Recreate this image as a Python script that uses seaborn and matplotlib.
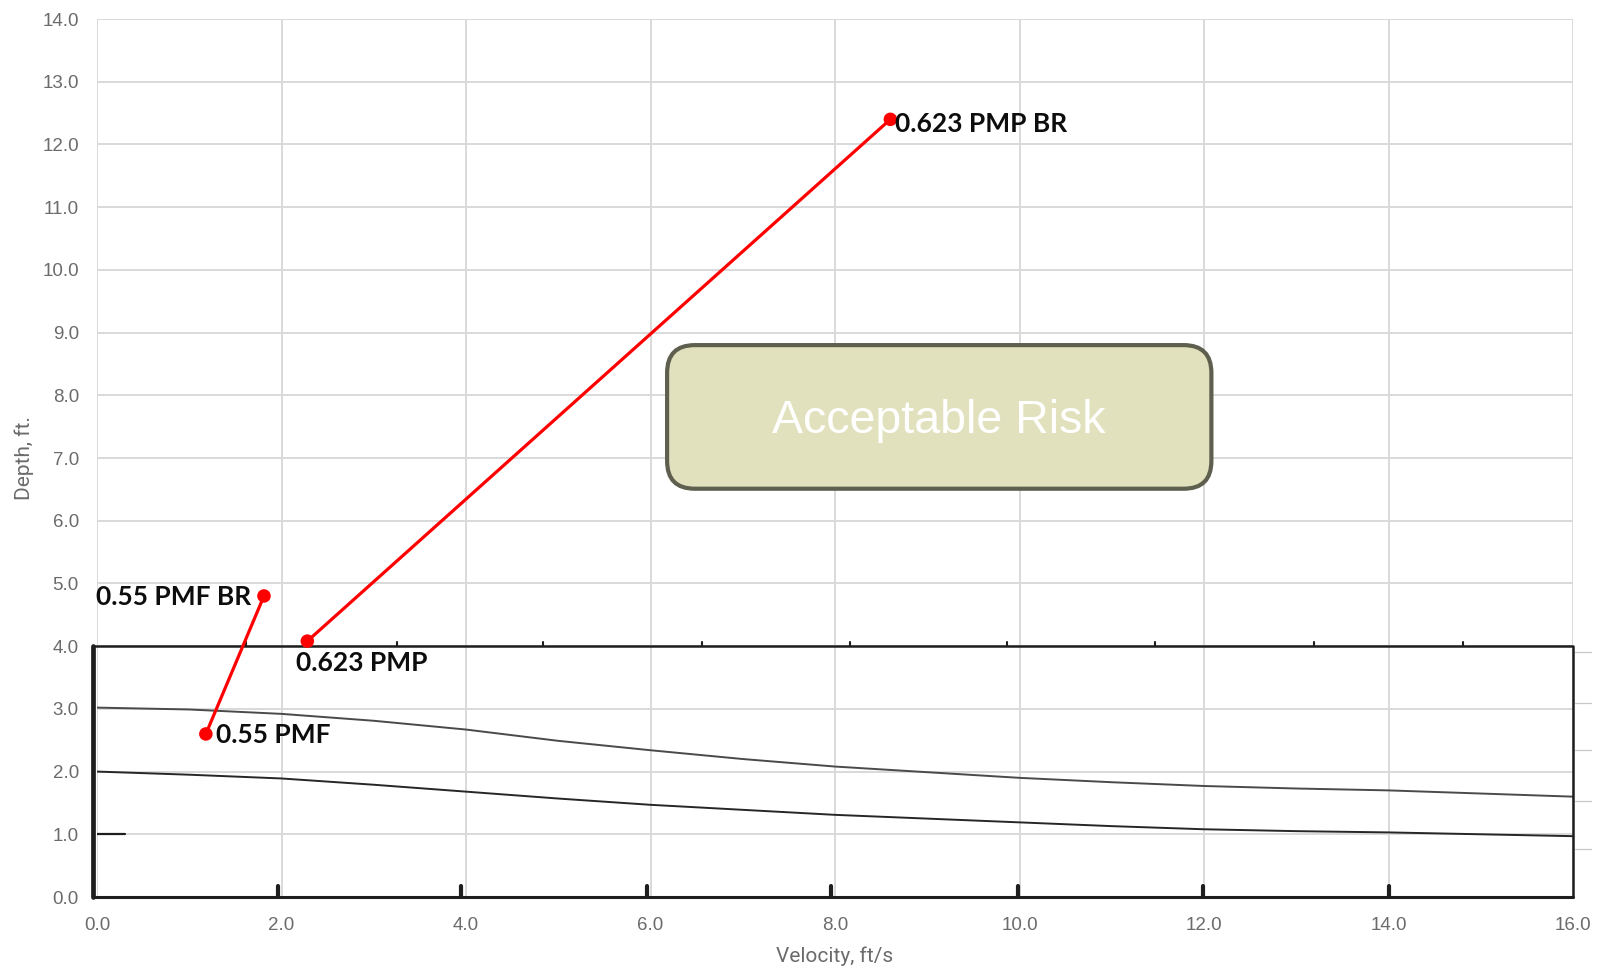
import matplotlib
matplotlib.use("Agg")
import matplotlib.pyplot as plt
from matplotlib.patches import FancyBboxPatch
import numpy as np
import pandas as pd
import seaborn as sns

# ---- data -------------------------------------------------------------
# Hazard-classification curves (depth vs velocity) from the inset chart
curve_velocity = [0, 1, 2, 3, 4, 5, 6, 7, 8, 9, 10, 11, 12, 13, 14, 15, 16]
upper_depth = [3.02, 2.99, 2.92, 2.81, 2.67, 2.49, 2.34, 2.20, 2.08, 1.99,
               1.90, 1.83, 1.77, 1.73, 1.70, 1.65, 1.60]
lower_depth = [2.00, 1.95, 1.89, 1.79, 1.68, 1.57, 1.47, 1.39, 1.31, 1.25,
               1.19, 1.13, 1.08, 1.05, 1.03, 1.00, 0.97]

# Inset chart frame and its tick marks
frame_x = [-0.04, 16.0, 16.0, -0.04, -0.04]
frame_y = [4.0, 4.0, 0.0, 0.0, 4.0]
bottom_tick_x = [1.96, 3.95, 5.96, 7.96, 9.98, 11.99, 14.0]
top_tick_x = [1.62, 3.25, 4.84, 6.56, 8.16, 9.86, 11.47, 13.19, 14.81]
right_tick_y = [3.90, 3.10, 2.34, 1.53, 0.77]

# Flood scenarios
scenario = ["0.55 PMF", "0.55 PMF", "0.623 PMP", "0.623 PMP"]
point_label = ["0.55 PMF", "0.55 PMF BR", "0.623 PMP", "0.623 PMP BR"]
velocity = [1.18, 1.81, 2.28, 8.60]
depth = [2.60, 4.80, 4.08, 12.40]

x_ticks = [0, 2, 4, 6, 8, 10, 12, 14, 16]
y_ticks = [0, 1, 2, 3, 4, 5, 6, 7, 8, 9, 10, 11, 12, 13, 14]

zone_label = "Acceptable Risk"
zone_x = [6.18, 12.08]
zone_y = [6.51, 8.80]

# ---- style ------------------------------------------------------------
sns.set_theme(style="white")
plt.rcParams["font.family"] = ["Liberation Sans", "DejaVu Sans"]

W, H = 1604, 969
fig = plt.figure(figsize=(W / 100, H / 100), dpi=100)
left_px, right_px, top_px, bottom_px = 97, 1573, 19, 897
ax = fig.add_axes([left_px / W, 1 - bottom_px / H,
                   (right_px - left_px) / W, (bottom_px - top_px) / H])

ax.set_xlim(0, 16)
ax.set_ylim(0, 14)
ax.set_xticks(x_ticks)
ax.set_yticks(y_ticks)
ax.set_xticklabels([f"{v:.1f}" for v in x_ticks])
ax.set_yticklabels([f"{v:.1f}" for v in y_ticks])
ax.grid(True, color="#d9d9d9", linewidth=1.4)
ax.set_axisbelow(True)
for s in ax.spines.values():
    s.set_visible(False)
ax.tick_params(length=0, labelsize=13.5, labelcolor="#6b6b6b")
ax.tick_params(axis="x", pad=14.5)
ax.tick_params(axis="y", pad=13)

ax.set_xlabel("Velocity, ft/s", fontsize=15, color="#6b6b6b",
              family=["Roboto", "DejaVu Sans"], labelpad=9)
ax.set_ylabel("Depth, ft.", fontsize=15, color="#6b6b6b",
              family=["Roboto", "DejaVu Sans"], labelpad=6)

# ---- inset chart (frame, ticks, curves) -------------------------------
ink = "#1e1e1e"
curves = pd.DataFrame({
    "velocity": curve_velocity * 2,
    "depth": upper_depth + lower_depth,
    "curve": ["upper"] * len(curve_velocity) + ["lower"] * len(curve_velocity),
})
sns.lineplot(data=curves, x="velocity", y="depth", hue="curve",
             palette={"upper": "#4a4a4a", "lower": "#262626"},
             linewidth=1.4, legend=False, ax=ax, zorder=3)

ax.plot(frame_x[:3], frame_y[:3], color=ink, linewidth=1.8, clip_on=False, zorder=4)
ax.plot(frame_x[2:4], frame_y[2:4], color=ink, linewidth=2.2, clip_on=False, zorder=4)
ax.plot(frame_x[3:], frame_y[3:], color=ink, linewidth=3.4, clip_on=False, zorder=4)
ax.plot([0.0, 0.3], [1.0, 1.0], color=ink, linewidth=1.6, zorder=4)
for bx in bottom_tick_x:
    ax.plot([bx, bx], [0.0, 0.17], color=ink, linewidth=3.0, zorder=4)
for tx in top_tick_x:
    ax.plot([tx, tx], [4.0, 4.07], color=ink, linewidth=1.5, zorder=4)
for ry in right_tick_y:
    ax.plot([16.02, 16.2], [ry, ry], color="#c8c8c8", linewidth=0.9,
            clip_on=False, zorder=4)

# ---- scenario points --------------------------------------------------
pts = pd.DataFrame({"velocity": velocity, "depth": depth,
                    "scenario": scenario, "label": point_label})
sns.lineplot(data=pts, x="velocity", y="depth", units="scenario",
             estimator=None, sort=False, color="#ff0000", linewidth=2.3,
             ax=ax, zorder=5)
sns.scatterplot(data=pts, x="velocity", y="depth", color="#ff0000",
                s=95, edgecolor="none", ax=ax, zorder=6, legend=False)

label_offsets = {
    "0.55 PMF": ((7.0, -0.5), "left"),
    "0.55 PMF BR": ((-9.0, -0.5), "right"),
    "0.623 PMP": ((-8.0, -15.5), "left"),
    "0.623 PMP BR": ((3.0, -3.0), "left"),
}
for _, r in pts.iterrows():
    off, ha = label_offsets[r["label"]]
    ax.annotate(r["label"], (r["velocity"], r["depth"]), xytext=off,
                textcoords="offset points", ha=ha, va="center",
                fontsize=19, fontweight="bold", color="#0d0d0d",
                family=["Lato", "DejaVu Sans"], zorder=7)

# ---- risk zone box ----------------------------------------------------
px_per_x = (right_px - left_px) / 16
px_per_y = (bottom_px - top_px) / 14
aspect = px_per_x / px_per_y
box = FancyBboxPatch((zone_x[0], zone_y[0]), zone_x[1] - zone_x[0],
                     zone_y[1] - zone_y[0],
                     boxstyle="round,pad=0,rounding_size=0.3",
                     mutation_aspect=aspect,
                     facecolor="#e2e1bd", edgecolor="#5f5f4f",
                     linewidth=3.0, zorder=8)
ax.add_patch(box)
ax.annotate(zone_label, (sum(zone_x) / 2, sum(zone_y) / 2), xytext=(0, -3),
            textcoords="offset points", ha="center", va="center",
            fontsize=33.5, color="white", zorder=9,
            family=["Liberation Sans", "DejaVu Sans"])

fig.savefig("out.png", dpi=100)
